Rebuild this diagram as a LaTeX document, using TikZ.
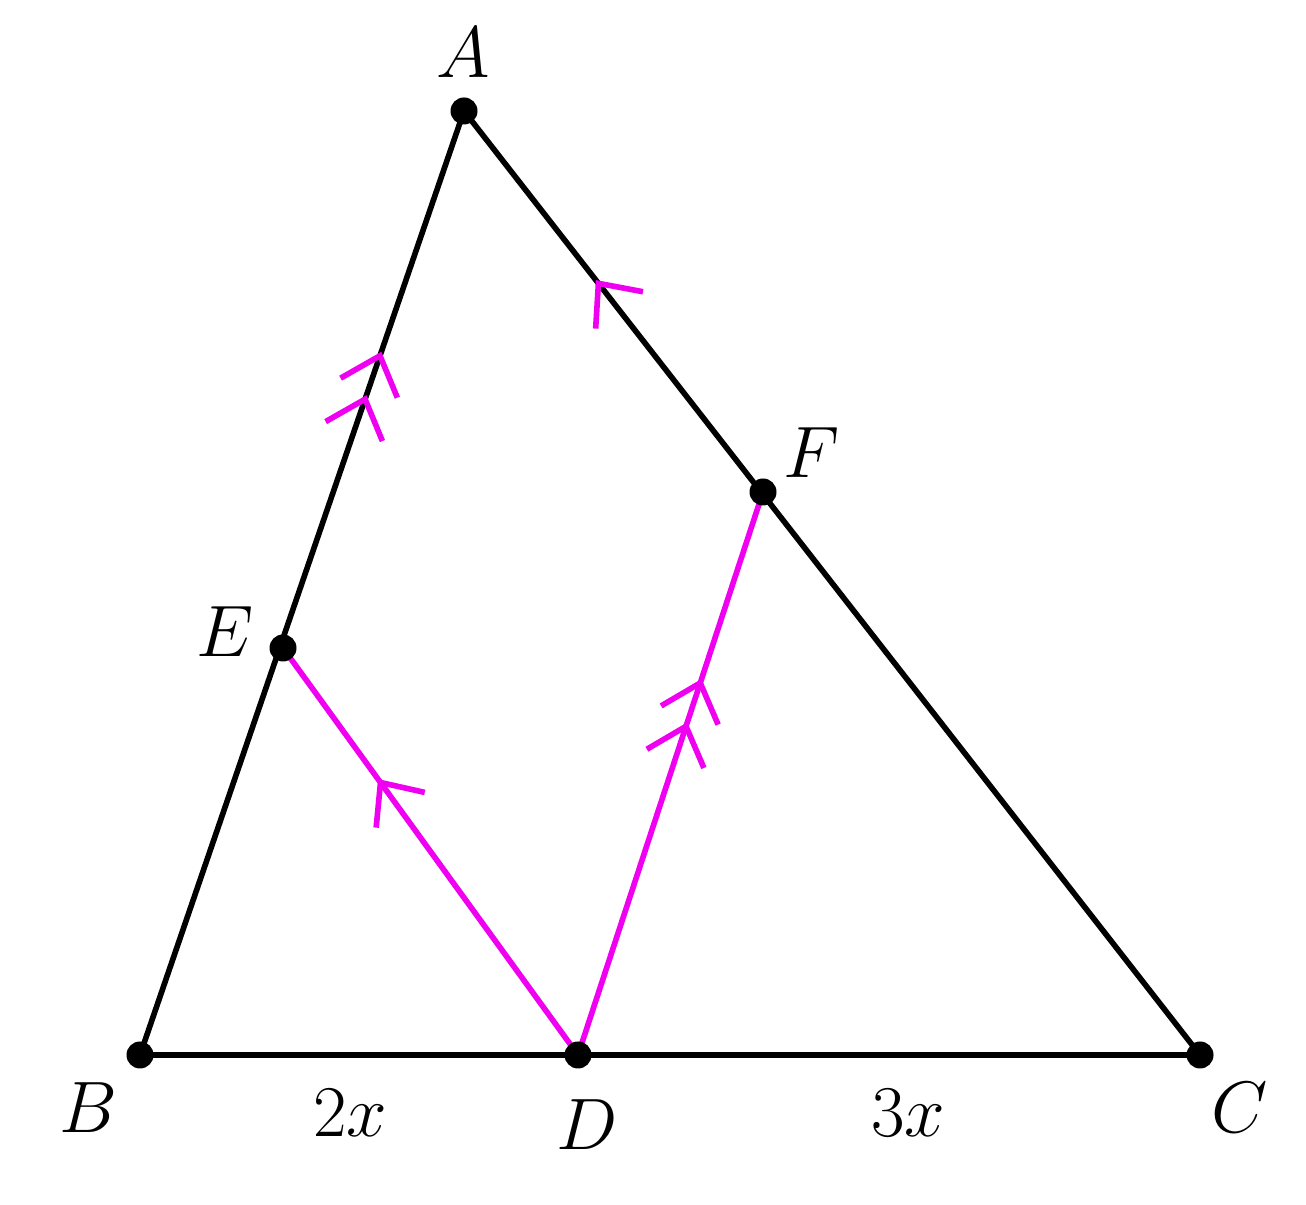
\documentclass[tikz,border=0pt]{standalone}
\usetikzlibrary{arrows.meta,decorations.markings}
\definecolor{parpink}{RGB}{240,0,240}
\tikzset{
  dot/.style={circle,fill=black,inner sep=0pt,minimum size=0.27cm},
  side/.style={line width=1.6pt,black},
  par/.style={line width=1.6pt,parpink},
  lbl/.style={font=\fontsize{21}{24}\selectfont},
  chev/.style={postaction={decorate,decoration={markings,
      mark=at position #1 with {\arrow[parpink,line width=1.6pt,line cap=round]{Straight Barb[length=3.4mm,width=6mm]}}}}},
}
\begin{document}
\begin{tikzpicture}
\useasboundingbox (0,0) rectangle (13.06,12.05);
\coordinate (A) at (4.64, 10.94);
\coordinate (B) at (1.40, 1.50);
\coordinate (C) at (12.00, 1.50);
\coordinate (D) at (5.78, 1.50);
\coordinate (E) at (2.83, 5.57);
\coordinate (F) at (7.63, 7.13);
% sides of the triangle
\draw[side] (B) -- (C);
\draw[side,chev=0.745,chev=0.699] (B) -- (A);
\draw[side,chev=0.821] (C) -- (A);
% parallels through D
\draw[par,chev=0.678] (D) -- (E);
\draw[par,chev=0.668,chev=0.591] (D) -- (F);
% points
\foreach \p in {A,B,C,D,E,F} \node[dot] at (\p) {};
\node[lbl] (lA) at (4.63, 11.52) {$A$};
\node[lbl] (lB) at (0.88, 0.97) {$B$};
\node[lbl] (lC) at (12.40, 0.97) {$C$};
\node[lbl] (lD) at (5.87, 0.80) {$D$};
\node[lbl] (lE) at (2.25, 5.73) {$E$};
\node[lbl] (lF) at (8.12, 7.52) {$F$};
\node[lbl] (bd) at (3.50, 0.92) {$2x$};
\node[lbl] (dc) at (9.08, 0.92) {$3x$};
\end{tikzpicture}
\end{document}
